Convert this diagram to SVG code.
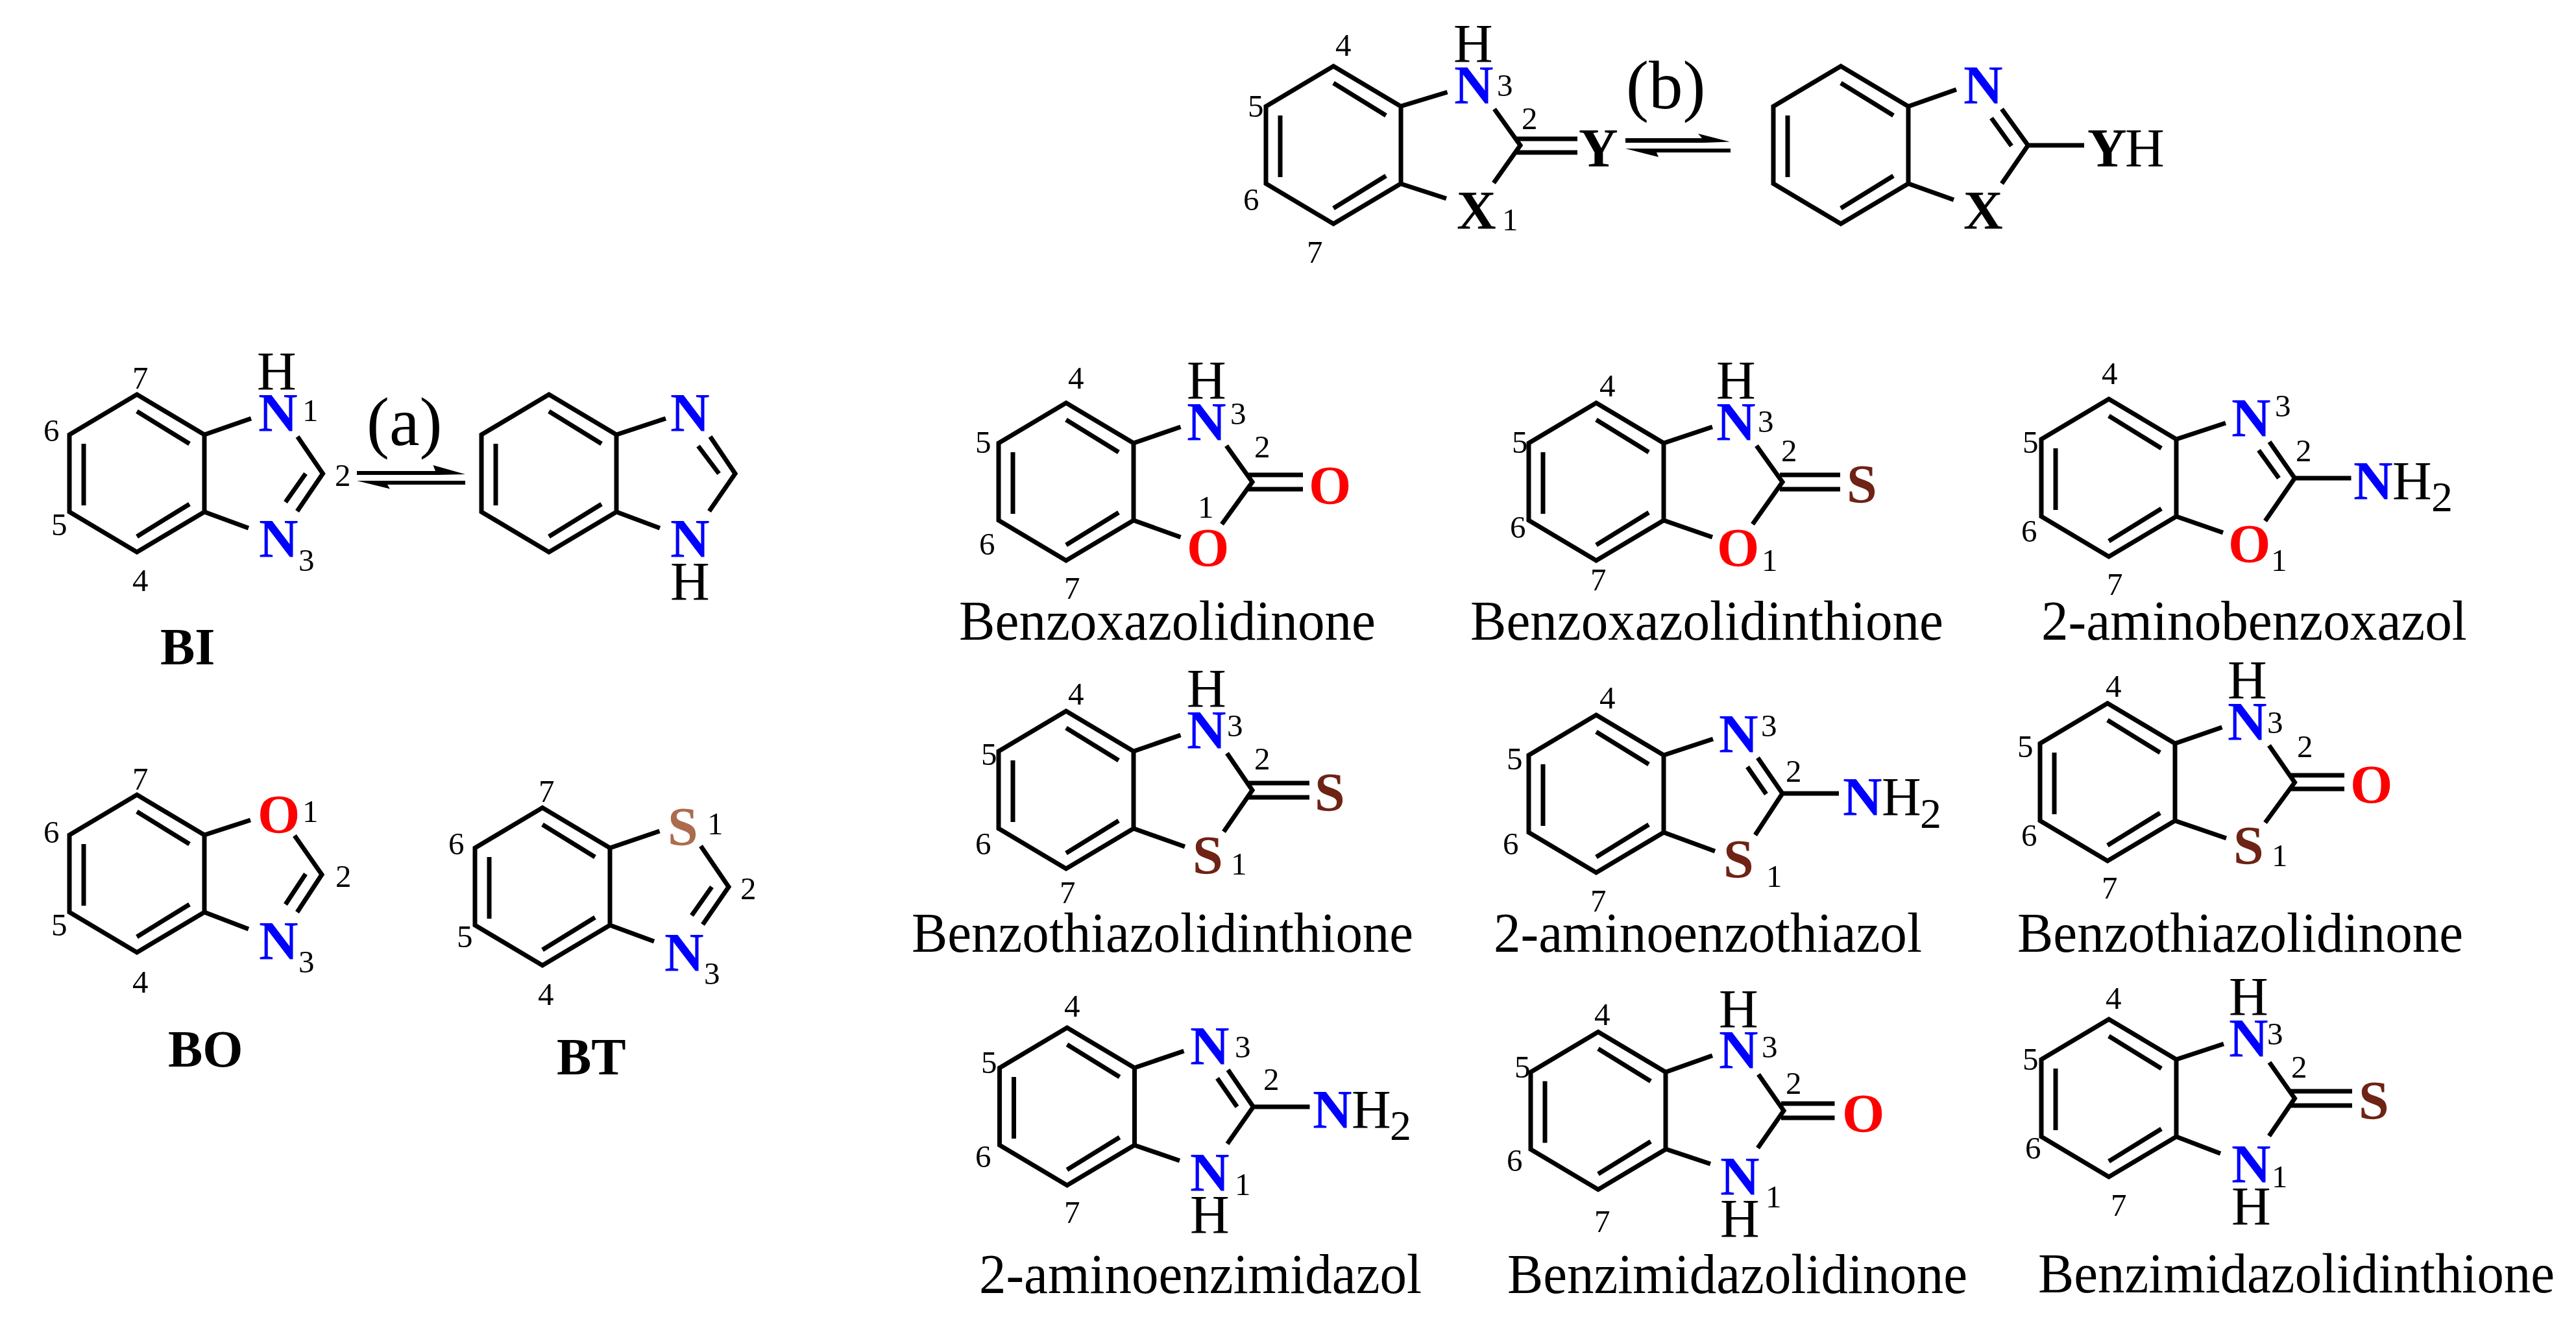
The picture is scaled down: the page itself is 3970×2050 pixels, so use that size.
<svg xmlns="http://www.w3.org/2000/svg" xmlns:xlink="http://www.w3.org/1999/xlink" width="3970" height="2050" viewBox="0 0 3970 2050">
<style>
text{font-family:"Liberation Serif","Times New Roman",serif;fill:#000}
.a{font-size:84px}
.l{font-size:86px}
.d{font-size:49px}
.s{font-size:66px}
.e{font-size:105px}
.t{font-size:80px;font-weight:bold}
.N,.O,.S,.B,.V{font-weight:bold;font-size:84px}
.N{fill:#0000ff}
.O{fill:#ff0000}
.S{fill:#6e2314}
.B{fill:#ad6b4e}
.bd,.rg{fill:none;stroke:#000;stroke-width:7;stroke-linejoin:miter}
.ar{fill:#000}
</style>
<defs>
<g id="ring" class="rg"><path d="M0 0L104 62V181L0 243L-104 181V62Z"/><path d="M0 26L81 76M81 169L0 219M-82 76V171"/></g>
</defs>
<rect width="3970" height="2050" fill="#fff"/>

<g id="connectors">
<polygon class="ar" points="2505,213 2623,213 2617,206 2666,218.5 2625,220 2505,220"/>
<polygon class="ar" points="2505,229 2667,229 2667,235 2553,235 2556,242"/>
<polygon class="ar" points="550,726 671,726 667.5,717 717,731 675,732 550,732"/>
<polygon class="ar" points="550,741 717,741 717,747 597,747 601,753.5"/>
</g>
<text class="e" x="2506" y="167">(b)</text>
<text class="e" x="565" y="686">(a)</text>

<g id="top-left">
<use href="#ring" x="2055" y="102"/>
<path class="bd" d="M2158 164L2230.6 142M2303 168L2343 224L2302 282M2158 283L2229 306M2337 214H2431M2337 235H2431"/>
<text class="a" x="2240" y="96">H</text><text class="N" x="2241" y="160">N</text><text class="V" x="2245" y="353">X</text><text class="V" x="2433" y="257">Y</text>
<text class="d" x="2307" y="148">3</text><text class="d" x="2345" y="199">2</text><text class="d" x="2315" y="355">1</text><text class="d" x="2058" y="86">4</text><text class="d" x="1923" y="180">5</text><text class="d" x="1916" y="324">6</text><text class="d" x="2014" y="405">7</text>
</g>
<g id="top-right">
<use href="#ring" x="2837" y="102"/>
<path class="bd" d="M2941 164L3015 138M3085 168L3125.5 224L3085 283M3069 182L3100 225M2941 283L3011 308M3125 224H3212"/>
<text class="N" x="3026" y="160">N</text><text class="V" x="3026" y="353">X</text><text class="V" x="3217" y="257">Y</text><text class="a" x="3275" y="257">H</text>
</g>

<g id="BI">
<use href="#ring" x="211" y="608"/>
<path class="bd" d="M315 670L387 645M458.5 673L497.5 730L458 788M471 730L440 774M315 789L383 814"/>
<text class="a" x="396" y="601">H</text><text class="N" x="398" y="665">N</text><text class="N" x="399" y="859">N</text>
<text class="d" x="466" y="649">1</text><text class="d" x="516" y="749">2</text><text class="d" x="460" y="880">3</text><text class="d" x="204" y="911">4</text><text class="d" x="79" y="825">5</text><text class="d" x="67" y="680">6</text><text class="d" x="204" y="599">7</text>
<text class="t" x="247" y="1024">BI</text>
</g>
<g id="BI-tautomer">
<use href="#ring" x="846" y="608"/>
<path class="bd" d="M950 670L1026 645M1094.5 673L1133 730L1093 788M1076 687.5L1108 730M950 789L1017 814"/>
<text class="N" x="1033" y="665">N</text><text class="N" x="1033" y="859">N</text><text class="a" x="1033" y="925">H</text>
</g>
<g id="BO">
<use href="#ring" x="211" y="1225"/>
<path class="bd" d="M315 1287L386 1264M454 1288L496 1348L458 1406M471 1347L440 1394M315 1406L383 1432"/>
<text class="O" x="397" y="1284">O</text><text class="N" x="399" y="1479">N</text>
<text class="d" x="466" y="1267">1</text><text class="d" x="517" y="1367">2</text><text class="d" x="460" y="1499">3</text><text class="d" x="204" y="1530">4</text><text class="d" x="79" y="1442">5</text><text class="d" x="67" y="1299">6</text><text class="d" x="204" y="1217">7</text>
<text class="t" x="259" y="1644">BO</text>
</g>
<g id="BT">
<use href="#ring" x="836" y="1245"/>
<path class="bd" d="M940 1307L1016.5 1281M1080 1304L1123 1367L1083 1425M1097 1367L1066 1411M940 1426L1008 1451"/>
<text class="B" x="1029" y="1303">S</text><text class="N" x="1024" y="1497">N</text>
<text class="d" x="1090" y="1286">1</text><text class="d" x="1141" y="1386">2</text><text class="d" x="1085" y="1517">3</text><text class="d" x="829" y="1549">4</text><text class="d" x="704" y="1460">5</text><text class="d" x="691" y="1317">6</text><text class="d" x="830" y="1236">7</text>
<text class="t" x="858" y="1656">BT</text>
</g>

<g id="benzoxazolidinone">
<use href="#ring" x="1643" y="621"/>
<path class="bd" d="M1747 683L1819.5 658M1890 687L1930 743L1883 808M1747 802L1819.5 828M1923 732H2008M1923 754H2008"/>
<text class="a" x="1829" y="615">H</text><text class="N" x="1829" y="679">N</text><text class="O" x="1829" y="873">O</text><text class="O" x="2017" y="777">O</text>
<text class="d" x="1846" y="798">1</text><text class="d" x="1933" y="705">2</text><text class="d" x="1896" y="654">3</text><text class="d" x="1646" y="599">4</text><text class="d" x="1503" y="698">5</text><text class="d" x="1509" y="855">6</text><text class="d" x="1640" y="923">7</text>
<text class="l" x="1478" y="986" textLength="642" lengthAdjust="spacingAndGlyphs">Benzoxazolidinone</text>
</g>
<g id="benzoxazolidinthione">
<use href="#ring" x="2460" y="621"/>
<path class="bd" d="M2564 683L2639 658M2707 687L2747 743L2701 808M2564 802L2639 828M2743 732H2836M2743 754H2836"/>
<text class="a" x="2645" y="615">H</text><text class="N" x="2645" y="679">N</text><text class="O" x="2646" y="873">O</text><text class="S" x="2846" y="775">S</text>
<text class="d" x="2715" y="880">1</text><text class="d" x="2745" y="711">2</text><text class="d" x="2709" y="666">3</text><text class="d" x="2465" y="611">4</text><text class="d" x="2330" y="698">5</text><text class="d" x="2327" y="829">6</text><text class="d" x="2451" y="910">7</text>
<text class="l" x="2266" y="986" textLength="729" lengthAdjust="spacingAndGlyphs">Benzoxazolidinthione</text>
</g>
<g id="aminobenzoxazol">
<use href="#ring" x="3250" y="615"/>
<path class="bd" d="M3354 677L3430 652M3497.5 681L3536.5 737L3491 803M3481 694L3512 737M3354 796L3426 821M3537 737H3623.5"/>
<text class="N" x="3439" y="673">N</text><text class="O" x="3434" y="867">O</text><text class="N" x="3627" y="770">N</text><text class="a" x="3687" y="770">H</text><text class="s" x="3747" y="788">2</text>
<text class="d" x="3500" y="880">1</text><text class="d" x="3538" y="711">2</text><text class="d" x="3506" y="642">3</text><text class="d" x="3239" y="592">4</text><text class="d" x="3117" y="698">5</text><text class="d" x="3115" y="835">6</text><text class="d" x="3247" y="917">7</text>
<text class="l" x="3146" y="986" textLength="656" lengthAdjust="spacingAndGlyphs">2-aminobenzoxazol</text>
</g>

<g id="benzothiazolidinthione">
<use href="#ring" x="1643" y="1096"/>
<path class="bd" d="M1747 1158L1819.5 1133M1891 1161L1930 1218L1886 1282M1747 1277L1826 1305M1923 1207H2018M1923 1229H2018"/>
<text class="a" x="1829" y="1090">H</text><text class="N" x="1829" y="1154">N</text><text class="S" x="1838" y="1347">S</text><text class="S" x="2026" y="1250">S</text>
<text class="d" x="1897" y="1348">1</text><text class="d" x="1933" y="1186">2</text><text class="d" x="1891" y="1135">3</text><text class="d" x="1646" y="1086">4</text><text class="d" x="1512" y="1179">5</text><text class="d" x="1503" y="1317">6</text><text class="d" x="1633" y="1392">7</text>
<text class="l" x="1405" y="1467" textLength="773" lengthAdjust="spacingAndGlyphs">Benzothiazolidinthione</text>
</g>
<g id="aminobenzothiazol">
<use href="#ring" x="2460" y="1102"/>
<path class="bd" d="M2564 1164L2640 1139M2709 1168L2747 1223L2705 1287M2693 1182L2722 1224M2564 1283L2643 1312M2747 1223H2834"/>
<text class="N" x="2649" y="1160">N</text><text class="S" x="2656" y="1353">S</text><text class="N" x="2840" y="1257">N</text><text class="a" x="2900" y="1257">H</text><text class="s" x="2959" y="1276">2</text>
<text class="d" x="2722" y="1367">1</text><text class="d" x="2752" y="1205">2</text><text class="d" x="2714" y="1135">3</text><text class="d" x="2465" y="1092">4</text><text class="d" x="2322" y="1186">5</text><text class="d" x="2316" y="1317">6</text><text class="d" x="2451" y="1405">7</text>
<text class="l" x="2302" y="1467" textLength="660" lengthAdjust="spacingAndGlyphs">2-aminoenzothiazol</text>
</g>
<g id="benzothiazolidinone">
<use href="#ring" x="3248" y="1084"/>
<path class="bd" d="M3352 1146L3424.5 1121M3497 1149L3536.5 1206L3491 1268M3352 1265L3431 1292M3528 1195H3613M3528 1216H3613"/>
<text class="a" x="3433" y="1077">H</text><text class="N" x="3433" y="1141">N</text><text class="S" x="3442" y="1332">S</text><text class="O" x="3622" y="1238">O</text>
<text class="d" x="3501" y="1335">1</text><text class="d" x="3540" y="1167">2</text><text class="d" x="3494" y="1130">3</text><text class="d" x="3245" y="1074">4</text><text class="d" x="3109" y="1167">5</text><text class="d" x="3115" y="1304">6</text><text class="d" x="3239" y="1385">7</text>
<text class="l" x="3109" y="1467" textLength="687" lengthAdjust="spacingAndGlyphs">Benzothiazolidinone</text>
</g>

<g id="aminobenzimidazol">
<use href="#ring" x="1644.5" y="1584"/>
<path class="bd" d="M1748 1646L1824.5 1620M1892.5 1649L1931.5 1706L1891.5 1763M1876 1662L1906.5 1706M1748 1765L1818 1789M1931.5 1706H2018.5"/>
<text class="N" x="1834" y="1641">N</text><text class="N" x="1834" y="1836">N</text><text class="a" x="1834" y="1901">H</text><text class="N" x="2023" y="1739">N</text><text class="a" x="2083" y="1739">H</text><text class="s" x="2142" y="1757">2</text>
<text class="d" x="1903" y="1842">1</text><text class="d" x="1947" y="1680">2</text><text class="d" x="1903" y="1630">3</text><text class="d" x="1640" y="1567">4</text><text class="d" x="1512" y="1654">5</text><text class="d" x="1503" y="1799">6</text><text class="d" x="1640" y="1885">7</text>
<text class="l" x="1509" y="1993" textLength="682" lengthAdjust="spacingAndGlyphs">2-aminoenzimidazol</text>
</g>
<g id="benzimidazolidinone">
<use href="#ring" x="2463" y="1590.5"/>
<path class="bd" d="M2567 1652.5L2639 1627M2710 1656L2749 1712L2709 1769.5M2567 1771L2636 1794M2745 1701H2827.5M2745 1723H2827.5"/>
<text class="a" x="2649" y="1583.5">H</text><text class="N" x="2649" y="1647">N</text><text class="N" x="2651" y="1842">N</text><text class="a" x="2651" y="1907">H</text><text class="O" x="2839" y="1745">O</text>
<text class="d" x="2721" y="1861">1</text><text class="d" x="2752" y="1686">2</text><text class="d" x="2715" y="1630">3</text><text class="d" x="2457" y="1580">4</text><text class="d" x="2334" y="1661">5</text><text class="d" x="2322" y="1805">6</text><text class="d" x="2457" y="1899">7</text>
<text class="l" x="2323" y="1993" textLength="709" lengthAdjust="spacingAndGlyphs">Benzimidazolidinone</text>
</g>
<g id="benzimidazolidinthione">
<use href="#ring" x="3250" y="1571"/>
<path class="bd" d="M3354 1633L3427 1609M3497.5 1637.5L3536.5 1693L3497 1751M3354 1752L3422 1778M3530 1682H3625M3530 1704H3625"/>
<text class="a" x="3435" y="1565">H</text><text class="N" x="3435" y="1629">N</text><text class="N" x="3439" y="1823">N</text><text class="a" x="3439" y="1888">H</text><text class="S" x="3635" y="1725">S</text>
<text class="d" x="3501" y="1830">1</text><text class="d" x="3531" y="1661">2</text><text class="d" x="3494" y="1610">3</text><text class="d" x="3245" y="1555">4</text><text class="d" x="3117" y="1649">5</text><text class="d" x="3121" y="1786">6</text><text class="d" x="3253" y="1874">7</text>
<text class="l" x="3141" y="1992" textLength="796" lengthAdjust="spacingAndGlyphs">Benzimidazolidinthione</text>
</g>
</svg>
